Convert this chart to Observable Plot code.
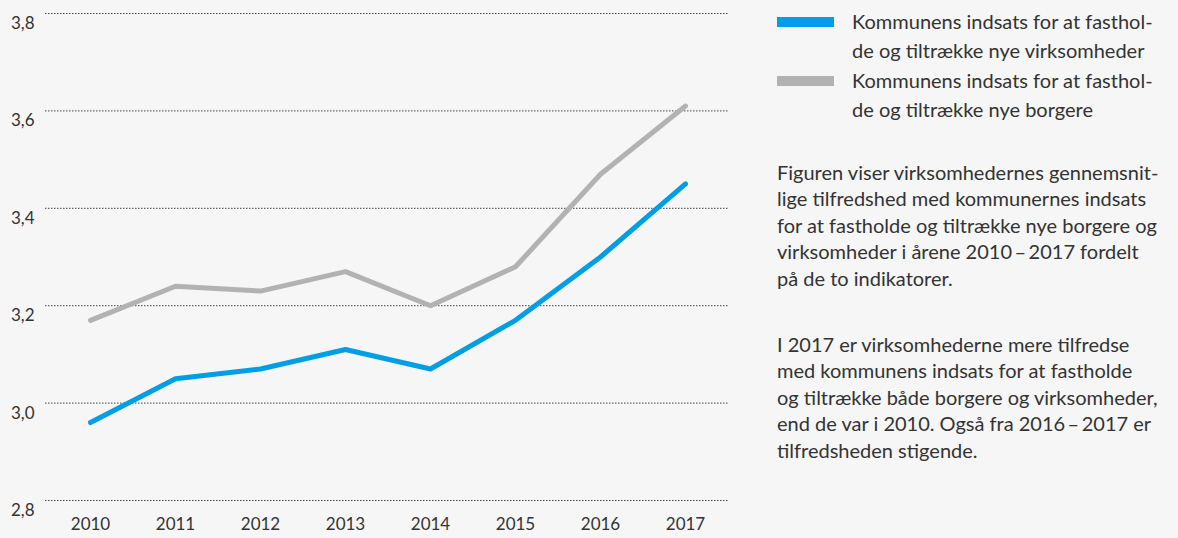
<!DOCTYPE html>
<html>
<head>
<meta charset="utf-8">
<script src="https://cdn.jsdelivr.net/npm/d3@7"></script>
<script src="https://cdn.jsdelivr.net/npm/@observablehq/plot@0.6"></script>
<style>
  html, body { margin: 0; padding: 0; background: #f6f6f6; }
  body { width: 1178px; height: 538px; position: relative; overflow: hidden; font-family: Lato, sans-serif; color: #333; }
  #chart { position: absolute; left: 0; top: 0; }
  .blk { position: absolute; left: 777px; font-size: 20px; white-space: nowrap; }
  .leg { line-height: 29px; padding-left: 75px; }
  .sw { position: absolute; left: 0; width: 57px; height: 10px; }
  .par { line-height: 26.5px; }
</style>
</head>
<body>
<div id="chart"></div>
<div class="blk leg" style="top:6.5px"><span class="sw" style="top:10.5px;background:#009fe3"></span>Kommunens indsats for at fasthol-<br>de og tiltrække nye virksomheder</div>
<div class="blk leg" style="top:65.5px"><span class="sw" style="top:10px;background:#b2b2b2"></span>Kommunens indsats for at fasthol-<br>de og tiltrække nye borgere</div>
<div class="blk par" style="top:158.5px">Figuren viser virksomhedernes gennemsnit-<br>lige tilfredshed med kommunernes indsats<br>for at fastholde og tiltrække nye borgere og<br>virksomheder i årene 2010&#8201;–&#8201;2017 fordelt<br>på de to indikatorer.</div>
<div class="blk par" style="top:330.5px">I 2017 er virksomhederne mere tilfredse<br>med kommunens indsats for at fastholde<br>og tiltrække både borgere og virksomheder,<br>end de var i 2010. Også fra 2016&#8201;–&#8201;2017 er<br>tilfredsheden stigende.</div>
<script>
const years = ["2010","2011","2012","2013","2014","2015","2016","2017"];
const virksomheder = [2.96, 3.05, 3.07, 3.11, 3.07, 3.17, 3.30, 3.45];
const borgere = [3.17, 3.24, 3.23, 3.27, 3.20, 3.28, 3.47, 3.61];
const yTicks = [2.8, 3.0, 3.2, 3.4, 3.6, 3.8];
const seriesNames = ["virksomheder", "borgere"];
const seriesColors = ["#009fe3", "#b2b2b2"];

const data = [];
years.forEach((y, i) => {
  data.push({year: y, value: virksomheder[i], series: "virksomheder"});
  data.push({year: y, value: borgere[i], series: "borgere"});
});

const fmt = d => d.toFixed(1).replace(".", ",");

const chart = Plot.plot({
  width: 740,
  height: 538,
  marginTop: 13,
  marginBottom: 38,
  marginLeft: 45,
  marginRight: 11,
  style: {background: "transparent", fontFamily: "Lato, sans-serif", fontSize: "17px", color: "#333"},
  x: {type: "point", domain: years, padding: 0.5, label: null},
  y: {domain: [2.8, 3.8], label: null},
  color: {domain: seriesNames, range: seriesColors},
  marks: [
    Plot.ruleY(yTicks, {stroke: "#444", strokeWidth: 1, strokeDasharray: "1.5,1.5"}),
    Plot.axisY(yTicks, {tickSize: 0, tickPadding: 11, tickFormat: fmt, dy: 10, fill: "#333", fontSize: 17}),
    Plot.axisX(years, {tickSize: 0, tickPadding: 17, fill: "#333", fontSize: 17}),
    Plot.line(data, {x: "year", y: "value", z: "series", stroke: "series", strokeWidth: 5, strokeLinejoin: "round", strokeLinecap: "round"})
  ]
});
document.getElementById("chart").appendChild(chart);
</script>
</body>
</html>
